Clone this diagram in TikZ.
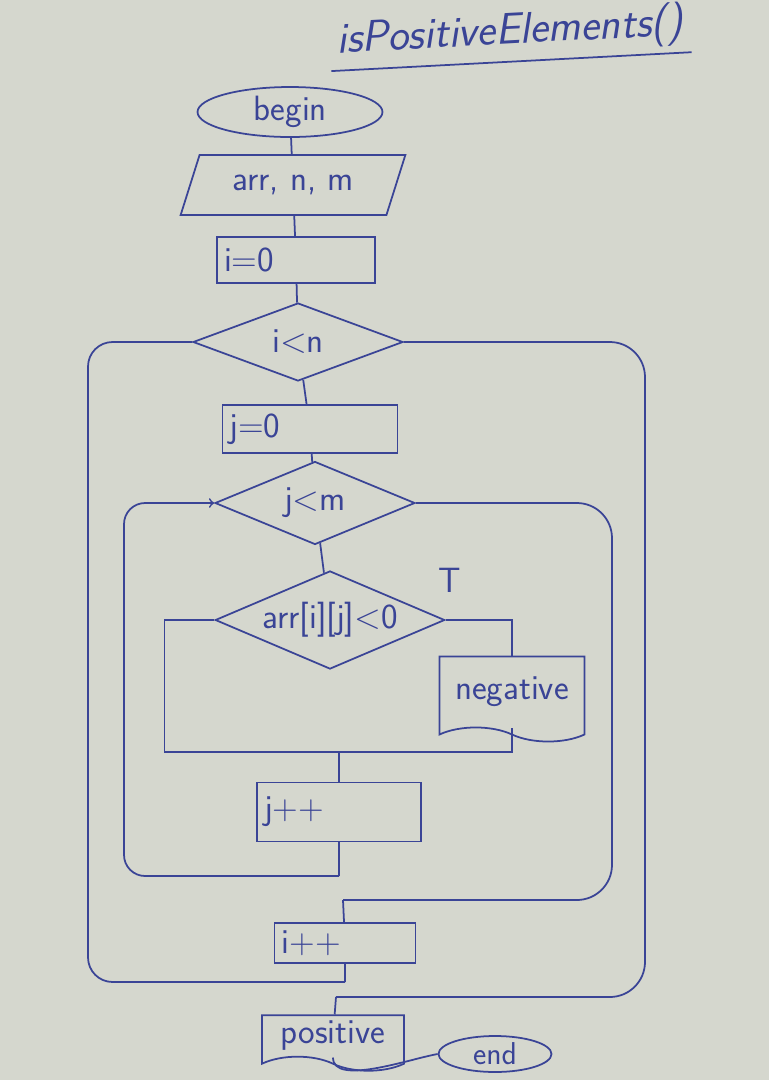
\documentclass[tikz,border=0pt]{standalone}
\usepackage{amsmath}
\usetikzlibrary{shapes.geometric,shapes.symbols}
\definecolor{ink}{RGB}{58,68,150}
\definecolor{paper}{RGB}{213,215,206}

\begin{document}
\begin{tikzpicture}[x=0.02cm,y=-0.02cm]
        \tikzstyle{every node} = [rectangle, draw=ink, text=ink, line width=1pt, font=\sffamily\fontsize{20}{22}\selectfont]
        \tikzstyle{wire} = [draw=ink, line width=1pt]
        \tikzstyle{box} = [align=left, inner xsep=4pt]
        \tikzstyle{dec} = [diamond, inner sep=1pt]
        \tikzstyle{term} = [ellipse, inner sep=0pt]
        \tikzstyle{doc} = [tape, tape bend top=none, tape bend bottom=out and in, tape bend height=8pt]
        \useasboundingbox (0,0) rectangle (769,1080);
        \fill[paper] (0,0) rectangle (769,1080);

        \node[draw=none, rotate=3, font=\sffamily\itshape\fontsize{25}{27}\selectfont] (t) at (510,33) {isPositiveElements()};
        \draw[wire] (t.south west) -- (t.south east);

        \node[term, minimum width=3.7cm, minimum height=1cm] (0) at (290,112) {begin};
        \node[trapezium, trapezium left angle=67, trapezium right angle=113, trapezium stretches=true, minimum width=4.5cm, minimum height=1.2cm] (1) at (293,185) {arr, n, m};
        \node[box, text width=2.88cm, minimum height=0.92cm] (2) at (296,260) {i=0};
        \node[dec, aspect=2.7, minimum width=4.2cm, minimum height=1.56cm] (3) at (298,342) {i<n};
        \node[box, text width=3.22cm, minimum height=0.96cm] (4) at (310,429) {j=0};
        \node[dec, aspect=2.4, minimum width=4cm, minimum height=1.66cm] (5) at (315,503) {j<m};
        \node[dec, aspect=2.34, minimum width=4.44cm, minimum height=1.9cm] (6) at (330,620) {arr[i][j]<0};
        \node[draw=none] (T) at (450,580) {T};
        \node[doc, minimum width=2.9cm, minimum height=1.7cm] (7) at (512,692) {negative};
        \node[box, text width=3.0cm, minimum height=1.18cm] (8) at (339,812) {j++};
        \node[box, text width=2.54cm, minimum height=0.8cm] (9) at (345,943) {i++};
        \node[doc, minimum width=2.84cm, minimum height=0.95cm] (10) at (333,1036) {positive};
        \node[term, minimum width=2.26cm, minimum height=0.72cm, font=\sffamily\fontsize{18}{20}\selectfont] (11) at (495,1054) {end};

        \foreach \from/\to in {0/1, 1/2, 2/3, 3/4, 4/5, 5/6}
            \draw[wire] (\from) -- (\to);

        % inner if
        \coordinate (m) at (339,752);
        \draw[wire] (6.east) -| (7.north);
        \draw[wire] (6.west) -- ++(-50,0) |- (m);
        \draw[wire] (7.south) |- (m);
        \draw[wire] (m) -- (8);

        % j loop
        \coordinate (jl) at (124,876);
        \coordinate (jr) at (612,900);
        \coordinate (n) at (343,900);
        \draw[wire] (8.south) -- (8.south |- jl);
        \draw[wire, ->, rounded corners=12pt] (8.south |- jl) -- (jl) |- (5.west);
        \draw[wire, rounded corners=20pt] (5.east) -| (jr) -- (n);
        \draw[wire] (n) -- (9);

        % i loop
        \coordinate (il) at (88,982);
        \coordinate (ir) at (645,997);
        \coordinate (p) at (336,997);
        \draw[wire] (9.south) -- (9.south |- il);
        \draw[wire, rounded corners=14pt] (9.south |- il) -- (il) |- (3.west);
        \draw[wire, rounded corners=20pt] (3.east) -| (ir) -- (p);
        \draw[wire] (p) -- (10);

        \draw[wire] (10.south) to[out=-90, in=190, looseness=0.7] (11.west);
\end{tikzpicture}
\end{document}
